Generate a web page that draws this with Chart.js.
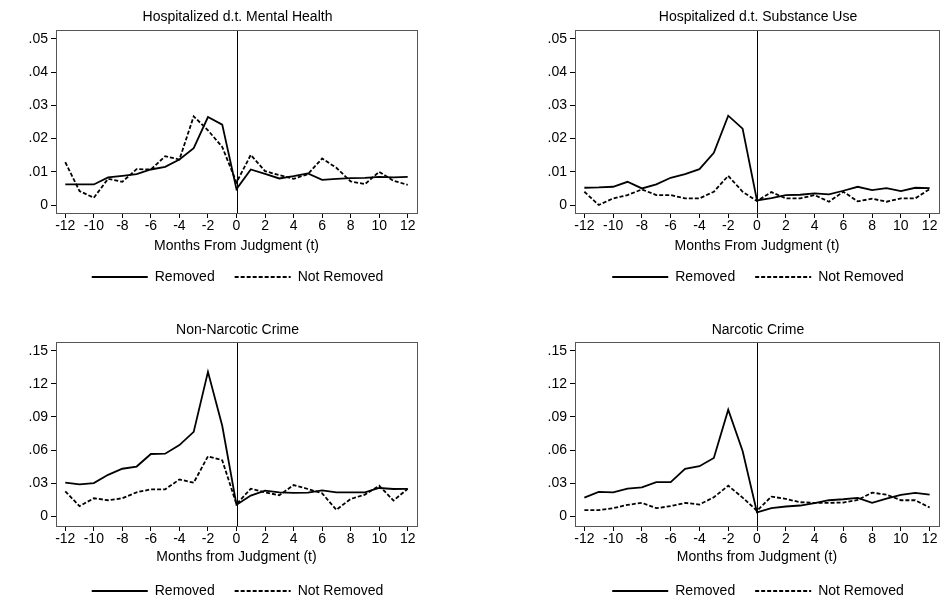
<!DOCTYPE html>
<html>
<head>
<meta charset="utf-8">
<script src="https://cdn.jsdelivr.net/npm/chart.js@4.4.1/dist/chart.umd.min.js"></script>
<style>
  html, body { margin: 0; padding: 0; background: #fff; overflow: hidden; }
  body { width: 951px; height: 599px; position: relative; }
  .pane { position: absolute; }
</style>
</head>
<body>
<div class="pane" style="left:0px;top:0px;width:475px;height:294px"><canvas id="c1"></canvas></div>
<div class="pane" style="left:519px;top:0px;width:478px;height:294px"><canvas id="c2"></canvas></div>
<div class="pane" style="left:0px;top:312px;width:475px;height:296px"><canvas id="c3"></canvas></div>
<div class="pane" style="left:519px;top:312px;width:478px;height:296px"><canvas id="c4"></canvas></div>
<script>
const months = [-12,-11,-10,-9,-8,-7,-6,-5,-4,-3,-2,-1,0,1,2,3,4,5,6,7,8,9,10,11,12];
const xTicks = [-12,-10,-8,-6,-4,-2,0,2,4,6,8,10,12];

const hospTicks = [0, 0.01, 0.02, 0.03, 0.04, 0.05];
const hospTickLabels = ["0", ".01", ".02", ".03", ".04", ".05"];
const crimeTicks = [0, 0.03, 0.06, 0.09, 0.12, 0.15];
const crimeTickLabels = ["0", ".03", ".06", ".09", ".12", ".15"];

const seriesNames = ["Removed", "Not Removed"];

// Hospitalized d.t. Mental Health
const mentalRemoved = [0.0062,0.0062,0.0062,0.0083,0.0088,0.0093,0.0107,0.0115,0.0137,0.0171,0.0265,0.0242,0.0048,0.0107,0.0094,0.0080,0.0087,0.0095,0.0076,0.0079,0.0081,0.0082,0.0085,0.0083,0.0085];
const mentalNot = [0.0129,0.0042,0.0022,0.0079,0.0070,0.0108,0.0107,0.0147,0.0137,0.0267,0.0225,0.0175,0.0068,0.0151,0.0102,0.0090,0.0079,0.0093,0.0140,0.0112,0.0071,0.0063,0.0100,0.0073,0.0061];

// Hospitalized d.t. Substance Use
const substRemoved = [0.0052,0.0053,0.0055,0.0070,0.0050,0.0062,0.0082,0.0093,0.0108,0.0157,0.0269,0.0230,0.0014,0.0021,0.0030,0.0031,0.0035,0.0032,0.0043,0.0055,0.0045,0.0051,0.0042,0.0052,0.0051];
const substNot = [0.0040,0.0000,0.0020,0.0030,0.0047,0.0030,0.0030,0.0020,0.0020,0.0040,0.0088,0.0040,0.0012,0.0039,0.0020,0.0020,0.0030,0.0010,0.0040,0.0011,0.0019,0.0010,0.0020,0.0020,0.0048];

// Non-Narcotic Crime
const nonNarcRemoved = [0.0303,0.0288,0.0300,0.0375,0.0430,0.0450,0.0564,0.0567,0.0645,0.0765,0.1310,0.0820,0.0102,0.0186,0.0231,0.0216,0.0210,0.0213,0.0234,0.0216,0.0216,0.0216,0.0255,0.0246,0.0248];
const nonNarcNot = [0.0225,0.0090,0.0162,0.0144,0.0162,0.0216,0.0243,0.0243,0.0333,0.0303,0.0543,0.0507,0.0108,0.0249,0.0216,0.0189,0.0282,0.0246,0.0207,0.0057,0.0156,0.0195,0.0276,0.0141,0.0248];

// Narcotic Crime
const narcRemoved = [0.0168,0.0219,0.0216,0.0249,0.0261,0.0309,0.0309,0.0429,0.0453,0.0528,0.0966,0.0591,0.0033,0.0072,0.0087,0.0096,0.0117,0.0144,0.0153,0.0165,0.0120,0.0159,0.0192,0.0210,0.0195];
const narcNot = [0.0054,0.0054,0.0072,0.0102,0.0120,0.0072,0.0090,0.0120,0.0105,0.0171,0.0276,0.0168,0.0048,0.0177,0.0156,0.0126,0.0120,0.0120,0.0123,0.0147,0.0213,0.0195,0.0144,0.0144,0.0078];

const FONT = "'Liberation Sans', Arial, sans-serif";
Chart.defaults.font.family = FONT;
Chart.defaults.color = "#000";

// frame round the plot and the vertical line at month 0
const framePlugin = {
  id: "frame",
  afterDatasetsDraw(chart) {
    const a = chart.chartArea;
    const ctx = chart.ctx;
    const x0 = chart.scales.x.getPixelForValue(0);
    ctx.save();
    ctx.strokeStyle = "#000";
    ctx.lineWidth = 1;
    ctx.beginPath();
    ctx.moveTo(Math.round(x0) + 0.5, a.top);
    ctx.lineTo(Math.round(x0) + 0.5, a.bottom);
    ctx.stroke();
    ctx.strokeStyle = "#555";
    ctx.strokeRect(Math.round(a.left) + 0.5, Math.round(a.top) + 0.5, Math.round(a.right - a.left), Math.round(a.bottom - a.top));
    ctx.restore();
  }
};

function points(vals) {
  return months.map((m, i) => ({ x: m, y: vals[i] }));
}

function makePanel(id, title, xTitle, removed, notRemoved, yTicks, yLabels, yMin, yMax, axisH, titlePad, xTitlePad) {
  new Chart(document.getElementById(id), {
    type: "line",
    data: {
      datasets: [{
        label: seriesNames[0],
        data: points(removed),
        borderColor: "#000",
        backgroundColor: "#000",
        borderWidth: 1.8,
        pointRadius: 0,
        tension: 0
      }, {
        label: seriesNames[1],
        data: points(notRemoved),
        borderColor: "#000",
        backgroundColor: "#000",
        borderWidth: 1.8,
        borderDash: [4, 2],
        pointRadius: 0,
        tension: 0
      }]
    },
    options: {
      responsive: true,
      maintainAspectRatio: false,
      animation: false,
      layout: { padding: 0 },
      plugins: {
        title: {
          display: true,
          text: title,
          color: "#000",
          font: { size: 14, weight: "normal", family: FONT },
          padding: titlePad
        },
        legend: {
          position: "bottom",
          labels: {
            // flat box: the stroke of a zero-height box gives a line sample
            boxWidth: 56,
            boxHeight: 0,
            padding: 20,
            color: "#000",
            font: { size: 14, family: FONT }
          }
        },
        tooltip: { enabled: false }
      },
      scales: {
        x: {
          type: "linear",
          min: -12.65,
          max: 12.65,
          afterBuildTicks: (axis) => { axis.ticks = xTicks.map(v => ({ value: v })); },
          afterFit: (axis) => { axis.height = axisH; },
          ticks: {
            padding: 1,
            maxRotation: 0,
            autoSkip: false,
            color: "#000",
            font: { size: 14, lineHeight: 1, family: FONT },
            callback: (v) => String(v)
          },
          grid: { drawOnChartArea: false, drawTicks: true, tickLength: 5, color: "#000" },
          border: { display: false },
          title: {
            display: true,
            text: xTitle,
            color: "#000",
            font: { size: 14, lineHeight: 1, family: FONT },
            padding: { top: 0, bottom: xTitlePad }
          }
        },
        y: {
          min: yMin,
          max: yMax,
          afterBuildTicks: (axis) => { axis.ticks = yTicks.map(v => ({ value: v })); },
          afterFit: (axis) => { axis.width = 56; },
          ticks: {
            padding: 3,
            color: "#000",
            font: { size: 14, lineHeight: 1, family: FONT },
            callback: (v, i) => yLabels[i]
          },
          grid: { drawOnChartArea: false, drawTicks: true, tickLength: 5, color: "#000" },
          border: { display: false }
        },
        y2: {
          position: "right",
          display: true,
          ticks: { display: false },
          grid: { display: false },
          border: { display: false },
          afterFit: (axis) => { axis.width = 58; }
        }
      }
    },
    plugins: [framePlugin]
  });
}

makePanel("c1", "Hospitalized d.t. Mental Health", "Months From Judgment (t)", mentalRemoved, mentalNot, hospTicks, hospTickLabels, -0.0024, 0.0527, 37, { top: 8.6, bottom: 4.6 }, -3);
makePanel("c2", "Hospitalized d.t. Substance Use", "Months From Judgment (t)", substRemoved, substNot, hospTicks, hospTickLabels, -0.0024, 0.0527, 37, { top: 8.6, bottom: 4.6 }, -3);
makePanel("c3", "Non-Narcotic Crime", "Months from Judgment (t)", nonNarcRemoved, nonNarcNot, crimeTicks, crimeTickLabels, -0.009, 0.1581, 38, { top: 9.6, bottom: 3.6 }, 0);
makePanel("c4", "Narcotic Crime", "Months from Judgment (t)", narcRemoved, narcNot, crimeTicks, crimeTickLabels, -0.009, 0.1581, 38, { top: 9.6, bottom: 3.6 }, 0);
</script>
</body>
</html>
